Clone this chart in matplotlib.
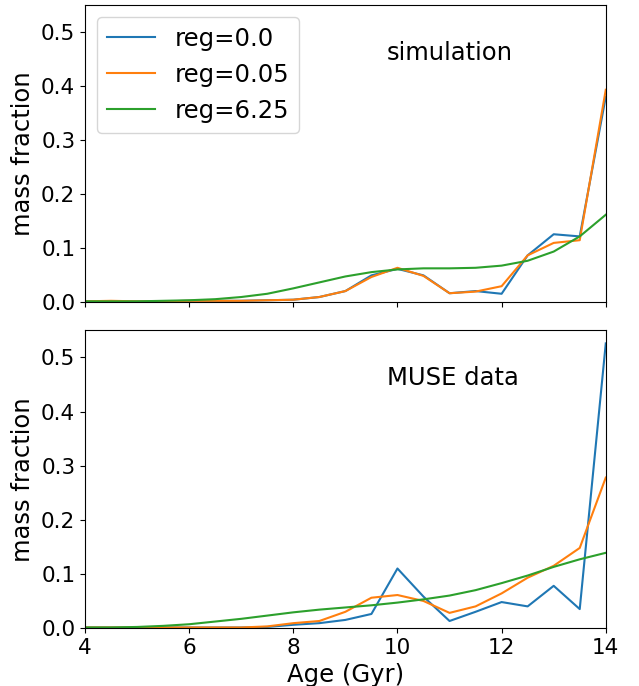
import numpy as np
import matplotlib
matplotlib.use("Agg")
import matplotlib.pyplot as plt

# Age bins (Gyr)
age = np.arange(4.0, 14.01, 0.5)

# simulation: mass fraction per age bin
sim_reg0 = [0.002, 0.002, 0.002, 0.002, 0.003, 0.003, 0.003, 0.004, 0.005, 0.010, 0.021,
            0.050, 0.062, 0.050, 0.017, 0.021, 0.016, 0.087, 0.126, 0.122, 0.380]
sim_reg005 = [0.002, 0.003, 0.002, 0.002, 0.003, 0.003, 0.003, 0.004, 0.005, 0.010, 0.021,
              0.047, 0.064, 0.049, 0.017, 0.020, 0.030, 0.087, 0.110, 0.115, 0.393]
sim_reg625 = [0.002, 0.002, 0.002, 0.003, 0.004, 0.006, 0.010, 0.016, 0.026, 0.037, 0.048,
              0.056, 0.061, 0.063, 0.063, 0.064, 0.068, 0.077, 0.094, 0.122, 0.162]

# MUSE data: mass fraction per age bin
muse_reg0 = [0.001, 0.001, 0.001, 0.001, 0.001, 0.001, 0.001, 0.002, 0.006, 0.009, 0.015,
             0.026, 0.110, 0.058, 0.013, 0.030, 0.048, 0.040, 0.078, 0.035, 0.526]
muse_reg005 = [0.001, 0.001, 0.001, 0.001, 0.001, 0.001, 0.001, 0.003, 0.009, 0.013, 0.030,
               0.056, 0.061, 0.050, 0.028, 0.040, 0.064, 0.093, 0.115, 0.148, 0.278]
muse_reg625 = [0.001, 0.001, 0.002, 0.004, 0.007, 0.012, 0.017, 0.023, 0.029, 0.034, 0.038,
               0.042, 0.047, 0.053, 0.060, 0.070, 0.083, 0.097, 0.113, 0.127, 0.139]

labels = ['reg=0.0', 'reg=0.05', 'reg=6.25']

fig, (ax1, ax2) = plt.subplots(2, 1, sharex=True, figsize=(6.39, 6.86), dpi=100)
fig.subplots_adjust(left=0.133, right=0.948, top=0.993, bottom=0.0845, hspace=0.094)

for ax, series, name in [(ax1, [sim_reg0, sim_reg005, sim_reg625], 'simulation'),
                         (ax2, [muse_reg0, muse_reg005, muse_reg625], 'MUSE data')]:
    for vals, lab in zip(series, labels):
        ax.plot(age, vals, label=lab, linewidth=1.5)
    ax.set_ylim(0, 0.55)
    ax.set_xlim(4, 14)
    ax.set_ylabel('mass fraction', fontsize=17.5)
    ax.tick_params(labelsize=15.5)
    ax.text(0.58, 0.815, name, transform=ax.transAxes, fontsize=17.5)

ax1.legend(loc='upper left', fontsize=17.5)
ax2.set_xlabel('Age (Gyr)', fontsize=17.5)

plt.savefig('out.png', dpi=100)
plt.close()
